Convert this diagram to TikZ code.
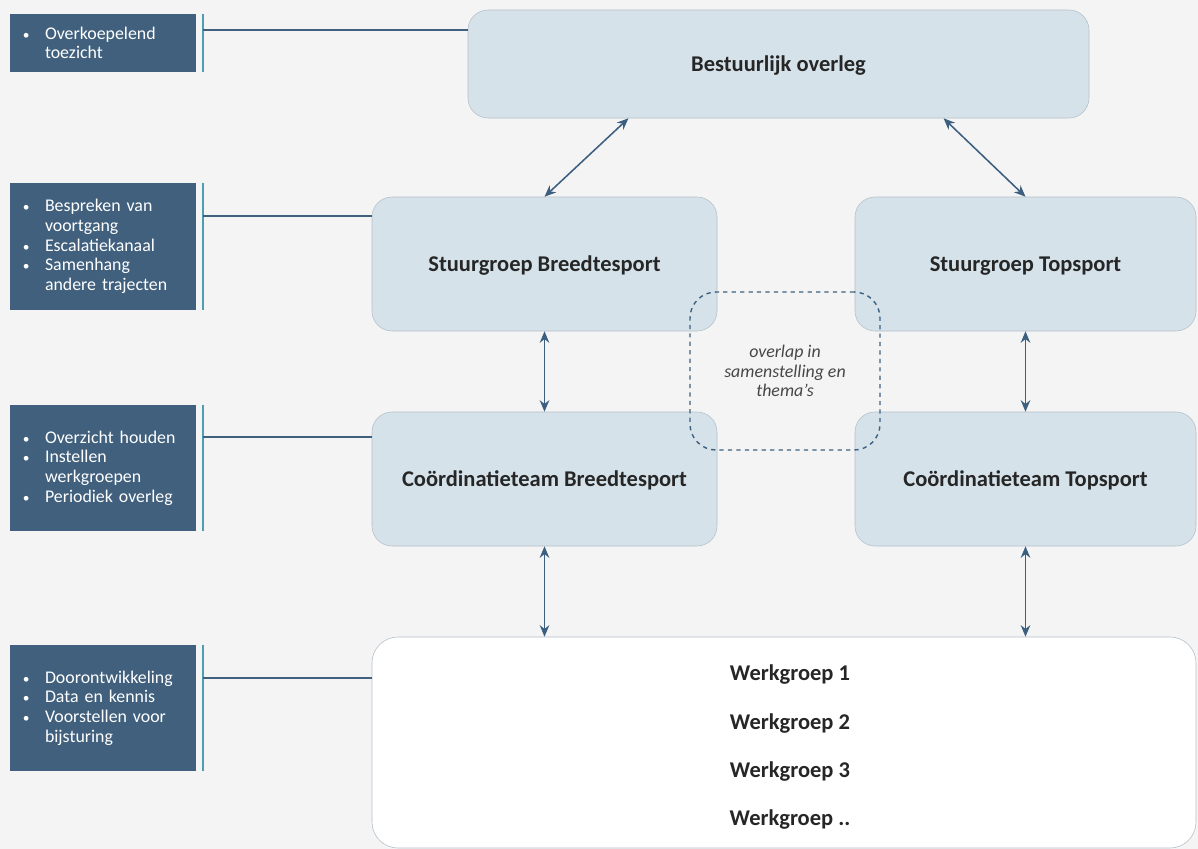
\documentclass[tikz,border=0pt]{standalone}
\usepackage{fontspec}
\setmainfont{Carlito}
\usetikzlibrary{arrows.meta}

\definecolor{achtergrond}{HTML}{F4F4F4}
\definecolor{donkerblauw}{HTML}{40607D}
\definecolor{streepteal}{HTML}{4E9DB0}
\definecolor{lichtblauw}{HTML}{D5E2EA}
\definecolor{randgrijs}{HTML}{B4C0CA}
\definecolor{pijlblauw}{HTML}{3C5F80}
\definecolor{tekstgrijs}{HTML}{262626}

\newlength\pxu
\setlength\pxu{0.025cm}
\newcommand\bul{\makebox[23\pxu][l]{\hspace*{1\pxu}\scalebox{0.75}{\textbullet}}}
\newcommand\inspring{\hspace*{23\pxu}}

\tikzset{
  orgbox/.style={draw=randgrijs, fill=lichtblauw, rounded corners=20\pxu, text depth=0pt,
    text=tekstgrijs, font=\fontsize{16}{19}\selectfont\bfseries},
  infobox/.style={fill=donkerblauw, text=white, align=left, inner xsep=12\pxu,
    inner ysep=0pt, text width=162\pxu, font=\fontsize{12.7}{14}\selectfont},
  tealstreep/.style={draw=streepteal, line width=2\pxu},
  verbind/.style={draw=donkerblauw, line width=1.5\pxu},
  pijl/.style={{Stealth[length=8.2pt,width=6.8pt]}-{Stealth[length=8.2pt,width=6.8pt]},
    draw=pijlblauw, line width=1.1pt}
}

\begin{document}
\begin{tikzpicture}[x=\pxu, y=-\pxu]

        \fill[achtergrond] (0,0) rectangle (1198,849);
        \useasboundingbox (0,0) rectangle (1198,849);

        % organisatie
        \node[orgbox, minimum width=621\pxu, minimum height=108\pxu] (bestuur) at (778.5,64) {Bestuurlijk overleg};
        \node[orgbox, minimum width=345\pxu, minimum height=134\pxu] (stuurbreed) at (544.5,264) {Stuurgroep Breedtesport};
        \node[orgbox, minimum width=341\pxu, minimum height=134\pxu] (stuurtop) at (1025.5,264) {Stuurgroep Topsport};
        \node[orgbox, minimum width=345\pxu, minimum height=134\pxu] (coordbreed) at (544.5,479) {Coördinatieteam Breedtesport};
        \node[orgbox, minimum width=341\pxu, minimum height=134\pxu] (coordtop) at (1025.5,479) {Coördinatieteam Topsport};
        \node[orgbox, fill=white, rounded corners=26\pxu, minimum width=824\pxu, minimum height=211\pxu] (werk) at (784,742.5) {};
        \node[align=center, text=tekstgrijs, font=\fontsize{16}{34.4}\selectfont\bfseries] (werktekst)
          at ([xshift=0.15cm,yshift=-0.12cm]werk.center)
          {Werkgroep 1\\Werkgroep 2\\Werkgroep 3\\Werkgroep ..};

        \node[draw=pijlblauw, dashed, line width=1.4\pxu, rounded corners=26\pxu, minimum width=190\pxu,
          minimum height=158\pxu, align=center, text=tekstgrijs!85,
          font=\fontsize{12.7}{13.8}\selectfont\itshape] (overlap) at (785,371)
          {overlap in\\samenstelling en\\thema's};

        \draw[pijl] (stuurbreed.north) -- ([xshift=-3.75cm]bestuur.south);
        \draw[pijl] (stuurtop.north) -- ([xshift=4.125cm]bestuur.south);
        \draw[pijl] (stuurbreed.south) -- (coordbreed.north);
        \draw[pijl] (stuurtop.south) -- (coordtop.north);
        \draw[pijl] (coordbreed.south) -- (coordbreed.south |- werk.north);
        \draw[pijl] (coordtop.south) -- (coordtop.south |- werk.north);

        % taken links
        \node[infobox, minimum height=58\pxu] (taak1) at (103,43)
          {\bul Overkoepelend\\\inspring toezicht};
        \node[infobox, minimum height=127\pxu] (taak2) at (103,246.5)
          {\bul Bespreken van\\\inspring voortgang\\\bul Escalatiekanaal\\\bul Samenhang\\\inspring andere trajecten};
        \node[infobox, minimum height=126\pxu] (taak3) at (103,468)
          {\bul Overzicht houden\\\bul Instellen\\\inspring werkgroepen\\\bul Periodiek overleg};
        \node[infobox, minimum height=126\pxu] (taak4) at (103,708)
          {\bul Doorontwikkeling\\\bul Data en kennis\\\bul Voorstellen voor\\\inspring bijsturing};

        \draw[tealstreep] ([xshift=0.175cm]taak1.north east) -- ([xshift=0.175cm]taak1.south east);
        \draw[tealstreep] ([xshift=0.175cm]taak2.north east) -- ([xshift=0.175cm]taak2.south east);
        \draw[tealstreep] ([xshift=0.175cm]taak3.north east) -- ([xshift=0.175cm]taak3.south east);
        \draw[tealstreep] ([xshift=0.175cm]taak4.north east) -- ([xshift=0.175cm]taak4.south east);

        \coordinate (lijn1) at (203,30);
        \coordinate (lijn2) at (203,216);
        \coordinate (lijn3) at (203,437);
        \coordinate (lijn4) at (203,678);
        \draw[verbind] (lijn1) -- (lijn1 -| bestuur.west);
        \draw[verbind] (lijn2) -- (lijn2 -| stuurbreed.west);
        \draw[verbind] (lijn3) -- (lijn3 -| coordbreed.west);
        \draw[verbind] (lijn4) -- (lijn4 -| werk.west);
    \end{tikzpicture}
\end{document}
